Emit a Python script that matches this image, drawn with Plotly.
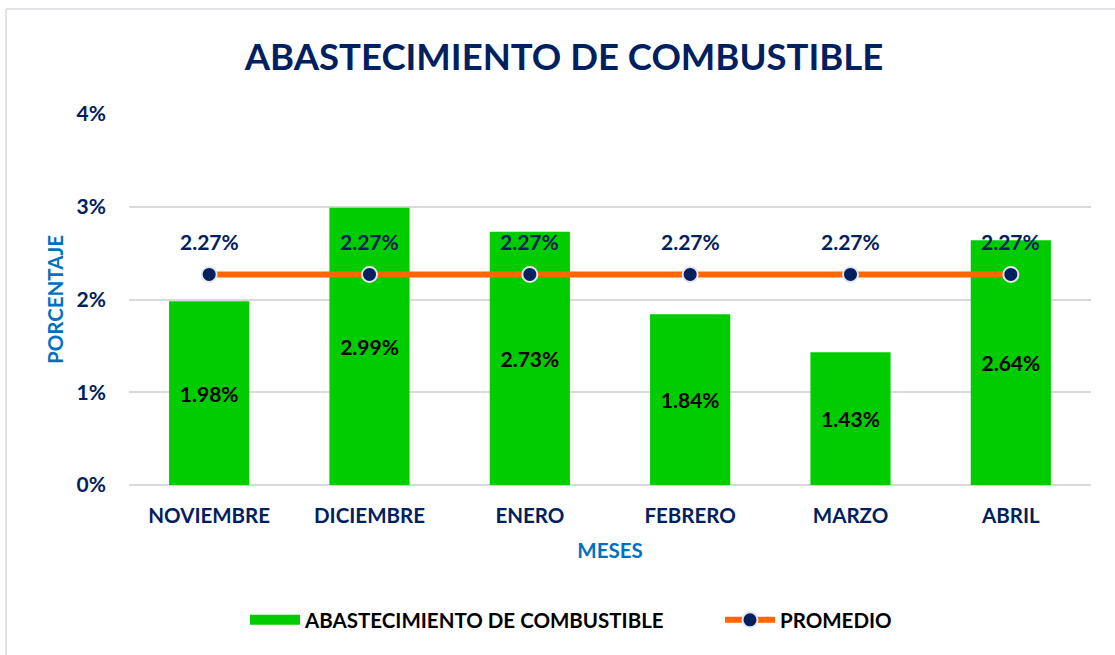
import plotly.graph_objects as go

meses = ["NOVIEMBRE", "DICIEMBRE", "ENERO", "FEBRERO", "MARZO", "ABRIL"]
abastecimiento = [1.98, 2.99, 2.73, 1.84, 1.43, 2.64]
promedio = [2.27, 2.27, 2.27, 2.27, 2.27, 2.27]
y_ticks = [0, 1, 2, 3, 4]
y_tick_labels = ["0%", "1%", "2%", "3%", "4%"]

FONT = "Lato"
NAVY = "#002060"
GREEN = "#00CC00"
ORANGE = "#FF6600"
W, H = 1115, 655
L, R, T, B = 129, 1091, 114, 485

def px(x):
    return (x - L) / (R - L)

def py(y):
    return (B - y) / (B - T)

fig = go.Figure()
fig.add_trace(go.Bar(
    x=meses, y=abastecimiento, name="ABASTECIMIENTO DE COMBUSTIBLE",
    marker=dict(color=GREEN, line=dict(width=0)),
    width=0.5, showlegend=False,
    text=[f"{v:.2f}%" for v in abastecimiento],
    textposition="inside", insidetextanchor="middle",
    textfont=dict(family=FONT, size=21, color="#000000", weight="bold"),
))
# legend-only entry to show the wide green swatch
fig.add_trace(go.Scatter(
    x=[None], y=[None], mode="lines", name="ABASTECIMIENTO DE COMBUSTIBLE",
    line=dict(color=GREEN, width=15),
))
fig.add_trace(go.Scatter(
    x=meses, y=promedio, name="PROMEDIO", mode="lines+markers",
    line=dict(color=ORANGE, width=6),
    marker=dict(color=NAVY, size=15, line=dict(color="#E6E6EC", width=2)),
    cliponaxis=False,
))
for m, v in zip(meses, promedio):
    fig.add_annotation(x=m, y=v, text=f"{v:.2f}%", showarrow=False, yshift=33,
                       font=dict(family=FONT, size=21, color=NAVY, weight="bold"))

fig.update_layout(
    width=W, height=H,
    margin=dict(l=L, r=W - R, t=T, b=H - B, autoexpand=False),
    paper_bgcolor="white", plot_bgcolor="white",
    title=dict(text="ABASTECIMIENTO DE COMBUSTIBLE", x=564 / W, xanchor="center",
               y=1 - 57 / H, yanchor="middle", yref="container",
               font=dict(family=FONT, size=36.5, color=NAVY, weight="bold")),
    showlegend=True,
    legend=dict(orientation="h", x=px(720), xanchor="center", y=py(620),
                yanchor="middle", font=dict(family=FONT, size=20.5, color="#000000", weight="bold"),
                itemwidth=50, traceorder="normal", tracegroupgap=0,
                entrywidth=410, entrywidthmode="pixels"),
    shapes=[
        dict(type="line", xref="paper", yref="paper", x0=px(6), x1=px(W),
             y0=py(9), y1=py(9), line=dict(color="#D9D9E0", width=1.5)),
        dict(type="line", xref="paper", yref="paper", x0=px(6), x1=px(6),
             y0=py(9), y1=py(H), line=dict(color="#D9D9E0", width=1.5)),
    ],
)
fig.update_xaxes(
    title=dict(text="MESES", font=dict(family=FONT, size=20.5, color="#0070C0", weight="bold"), standoff=18),
    tickfont=dict(family=FONT, size=20.5, color=NAVY, weight="bold"),
    showgrid=False, showline=False, ticks="", ticklabelstandoff=16,
)
fig.update_yaxes(
    title=dict(text="PORCENTAJE", font=dict(family=FONT, size=20.5, color="#0070C0", weight="bold"), standoff=7),
    range=[0, 4], tickvals=y_ticks, ticktext=y_tick_labels,
    tickfont=dict(family=FONT, size=21, color=NAVY, weight="bold"),
    showgrid=True, gridcolor="#D9D9D9", gridwidth=1.5,
    zeroline=True, zerolinecolor="#D9D9D9", zerolinewidth=1.5,
    ticks="", ticklabelstandoff=22,
)

fig.write_html("out.html", config={"displayModeBar": False},
               post_script="document.body.style.margin='0';")
